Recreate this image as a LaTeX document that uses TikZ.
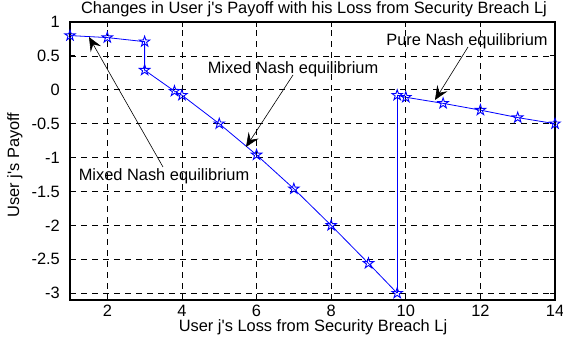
\documentclass[tikz,border=0pt]{standalone}
\usepackage{fontspec}
\setmainfont{Liberation Sans}[Ligatures=TeXOff]
\usetikzlibrary{arrows.meta,shapes.geometric}
\definecolor{curveblue}{RGB}{0,0,255}
\tikzset{
  lbl/.style={font=\fontsize{16.4}{18}\selectfont, inner sep=0pt},
  gridline/.style={black, line width=0.7pt, dash pattern=on 6pt off 5pt},
  tickline/.style={black, line width=0.8pt},
  frame/.style={black, line width=1.1pt},
  series/.style={curveblue, line width=0.8pt},
  mk/.style={star, star points=5, star point ratio=2.6, minimum size=11pt,
    inner sep=0pt, draw=curveblue, line width=0.9pt},
  callout/.style={black, line width=0.6pt,
    -{Stealth[length=14pt,width=12pt,inset=5.5pt]}},
}
\begin{document}
\begin{tikzpicture}
\useasboundingbox[fill=white] (0,0) rectangle (563pt,343pt);

% axes in data units: x from 1 to 14, y from -3.1 to 1
\begin{scope}[shift={(32.69pt,253.2pt)}, x=37.31pt, y=67.8pt]
  % dashed grid
  \foreach \gx in {2,4,...,12}
    \draw[gridline] (\gx,-3.1) -- (\gx,1);
  \foreach \gy in {0.5,0,-0.5,-1,-1.5,-2,-2.5,-3}
    \draw[gridline] (1,\gy) -- (14,\gy);
  % inward ticks on all four sides
  \foreach \gx in {2,4,...,12} {
    \draw[tickline] (\gx,-3.1) -- ++(0,5pt);
    \draw[tickline] (\gx,1) -- ++(0,-5pt);
  }
  \foreach \gy in {0.5,0,-0.5,-1,-1.5,-2,-2.5,-3} {
    \draw[tickline] (1,\gy) -- ++(5pt,0);
    \draw[tickline] (14,\gy) -- ++(-5pt,0);
  }
  \draw[frame] (1,-3.1) rectangle (14,1);

  % tick labels
  \foreach \gx in {2,4,...,14}
    \node[lbl] (xt\gx) at ([yshift=-11pt]\gx,-3.1) {\gx};
  \foreach \gy/\t in {1/1,0.5/0.5,0/0,-0.5/-0.5,-1/-1,-1.5/-1.5,-2/-2,-2.5/-2.5,-3/-3}
    \node[lbl, anchor=east] at ([xshift=-10pt]1,\gy) {\t};

  % payoff curve
  \foreach \i/\px/\py in {1/1/0.80, 2/2/0.77, 3/3/0.71, 4/3/0.29, 5/3.8/-0.02,
      6/4/-0.08, 7/5/-0.50, 8/6/-0.96, 9/7/-1.46, 10/8/-2.00, 11/9/-2.56,
      12/9.77/-3.00, 13/9.77/-0.08, 14/10/-0.11, 15/11/-0.20, 16/12/-0.30,
      17/13/-0.41, 18/14/-0.50}
    \coordinate (p\i) at (\px,\py);
  \draw[series] (p1) \foreach \i in {2,...,12} { -- (p\i) };
  \fill[curveblue] ([xshift=-0.7pt]p12) rectangle ([xshift=0.7pt]p13);
  \draw[series] (p13) \foreach \i in {14,...,18} { -- (p\i) };
  \foreach \i in {1,...,18}
    \node[mk] (m\i) at (p\i) {};
\end{scope}

% title and axis labels
\node[lbl, anchor=base] (title) at (314pt,329pt)
  {Changes in User j's Payoff with his Loss from Security Breach Lj};
\node[lbl, anchor=base] (xlab) at (313pt,11pt)
  {User j's Loss from Security Breach Lj};
\node[lbl, anchor=base, rotate=90] (ylab) at (19pt,178pt) {User j's Payoff};

% equilibrium callouts
\node[lbl, anchor=base] (mixA) at (164pt,162pt) {Mixed Nash equilibrium};
\node[lbl, anchor=base] (mixB) at (293pt,269pt) {Mixed Nash equilibrium};
\node[lbl, anchor=base] (pure) at (467pt,297pt) {Pure Nash equilibrium};

\coordinate (mixAfrom) at (163pt,176pt);
\coordinate (mixAto)   at (89pt,306pt);
\coordinate (mixBfrom) at (293pt,268pt);
\coordinate (mixBto)   at (246pt,196pt);
\coordinate (purefrom) at (468pt,296pt);
\coordinate (pureto)   at (435pt,243pt);
\draw[callout] (mixAfrom) -- (mixAto);
\draw[callout] (mixBfrom) -- (mixBto);
\draw[callout] (purefrom) -- (pureto);
\end{tikzpicture}
\end{document}
